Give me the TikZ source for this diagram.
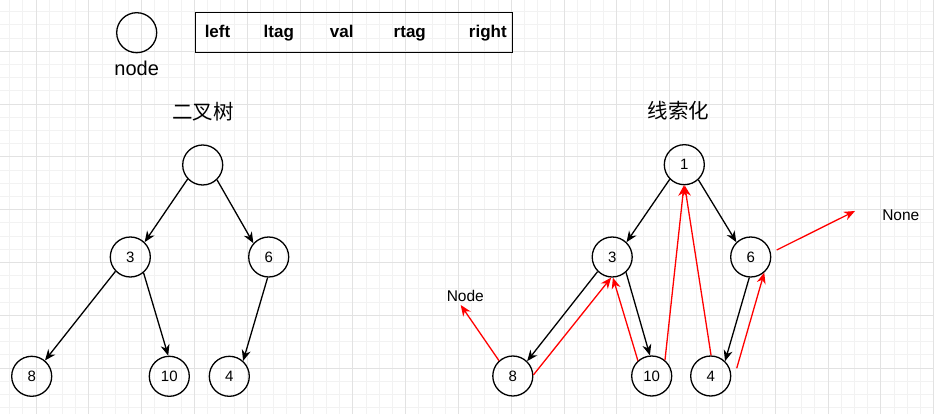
\documentclass[tikz,border=0pt]{standalone}
\usepackage{fontspec}
\setmainfont{Liberation Sans}
\newfontfamily\cjk{Noto Sans CJK SC}
\usetikzlibrary{arrows.meta}
\definecolor{gridmajor}{HTML}{E2E2E2}
\definecolor{gridminor}{HTML}{F2F2F2}
\definecolor{threadred}{HTML}{FF0000}
\begin{document}
\begin{tikzpicture}[x=1pt,y=-1pt,
  treenode/.style={circle,draw=black,line width=1.3pt,minimum size=40pt,inner sep=0pt,font=\fontsize{15}{18}\selectfont},
  edge/.style={line width=1.3pt,-{Stealth[length=11pt,width=9pt,inset=3.5pt]}},
  thread/.style={edge,color=threadred},
  fieldtext/.style={anchor=base,inner sep=0pt,font=\fontsize{17}{20}\selectfont\bfseries},
  plaintext/.style={anchor=base,inner sep=0pt,font=\fontsize{15.5}{18}\selectfont},
  titletext/.style={inner sep=0pt,font=\fontsize{20.5}{24}\selectfont\cjk},
  minorline/.style={draw=gridminor,line width=0.9pt},
  majorline/.style={draw=gridmajor,line width=0.9pt}]
\useasboundingbox (0,0) rectangle (934,414);
\fill[white] (0,0) rectangle (934,414);
% grid
\foreach \i in {0,...,72} \draw[minorline] ({-16.8+13.2*\i},0) -- ({-16.8+13.2*\i},414);
\foreach \i in {0,...,32} \draw[minorline] (0,{-1.5+13.2*\i}) -- (934,{-1.5+13.2*\i});
\foreach \i in {0,...,18} \draw[majorline] ({-16.8+52.8*\i},0) -- ({-16.8+52.8*\i},414);
\foreach \i in {0,...,8} \draw[majorline] (0,{-1.5+52.8*\i}) -- (934,{-1.5+52.8*\i});
% legend
\node[treenode] (legend) at (136.7,32.7) {};
\node[anchor=base,inner sep=0pt,font=\fontsize{20}{24}\selectfont] (legendlabel) at (136.7,76) {node};
\node[draw,line width=1.3pt,minimum width=317pt,minimum height=39.6pt,inner sep=0pt] (fields) at (353.8,32.5) {};
\node[fieldtext] (fleft) at (217.5,37.7) {left};
\node[fieldtext] (fltag) at (278.8,37.7) {ltag};
\node[fieldtext] (fval) at (341.7,37.7) {val};
\node[fieldtext] (frtag) at (409.8,37.7) {rtag};
\node[fieldtext] (fright) at (487.8,37.7) {right};
% titles
\node[titletext] (ltitle) at (203,111.5) {二叉树};
\node[titletext] (rtitle) at (678.3,111) {线索化};
% left tree
\node[treenode] (lroot) at (202.7,165) {};
\node[treenode] (l3) at (130.3,257) {3};
\node[treenode] (l6) at (268.7,257) {6};
\node[treenode] (l8) at (31.7,376.3) {8};
\node[treenode] (l10) at (169.3,376.3) {10};
\node[treenode] (l4) at (229.3,376.3) {4};
\draw[edge] (lroot.223) -- (l3.46);
\draw[edge] (lroot.-46) -- (l6.138);
\draw[edge] (l3.224) -- (l8.50);
\draw[edge] (l3.-50) -- (l10.93);
\draw[edge] (l6.-93) -- (l4.48);
% right tree
\node[treenode] (r1) at (684.3,164.7) {1};
\node[treenode] (r3) at (612.2,257) {3};
\node[treenode] (r6) at (750.7,257) {6};
\node[treenode] (r8) at (512.8,376) {8};
\node[treenode] (r10) at (651.7,376) {10};
\node[treenode] (r4) at (710.7,376) {4};
\draw[edge] (r1.225) -- (r3.46);
\draw[edge] (r1.-47) -- (r6.134);
\draw[edge] (r3.225) -- (r8.46);
\draw[edge] (r3.-48) -- (r10.95);
\draw[edge] (r6.-94) -- (r4.46);
% threads
\node[plaintext] (nodelabel) at (465.3,301) {Node};
\node[plaintext] (nonelabel) at (900.8,221) {None};
\coordinate (cnode) at (460.7,305);
\coordinate (c4out) at (736.7,368.3);
\coordinate (c6out) at (776.7,250);
\coordinate (cnone) at (855,211);
\draw[thread] (r8.3) -- (r3.-93);
\draw[thread] (r10.132) -- (r3.-88);
\draw[thread] (r10.50) -- (r1.-91);
\draw[thread] (r4.89) -- (r1.-89);
\draw[thread] (c4out) -- (r6.-49);
\draw[thread] (c6out) -- (cnone);
\draw[thread] (r8.132) -- (cnode);
\end{tikzpicture}
\end{document}
